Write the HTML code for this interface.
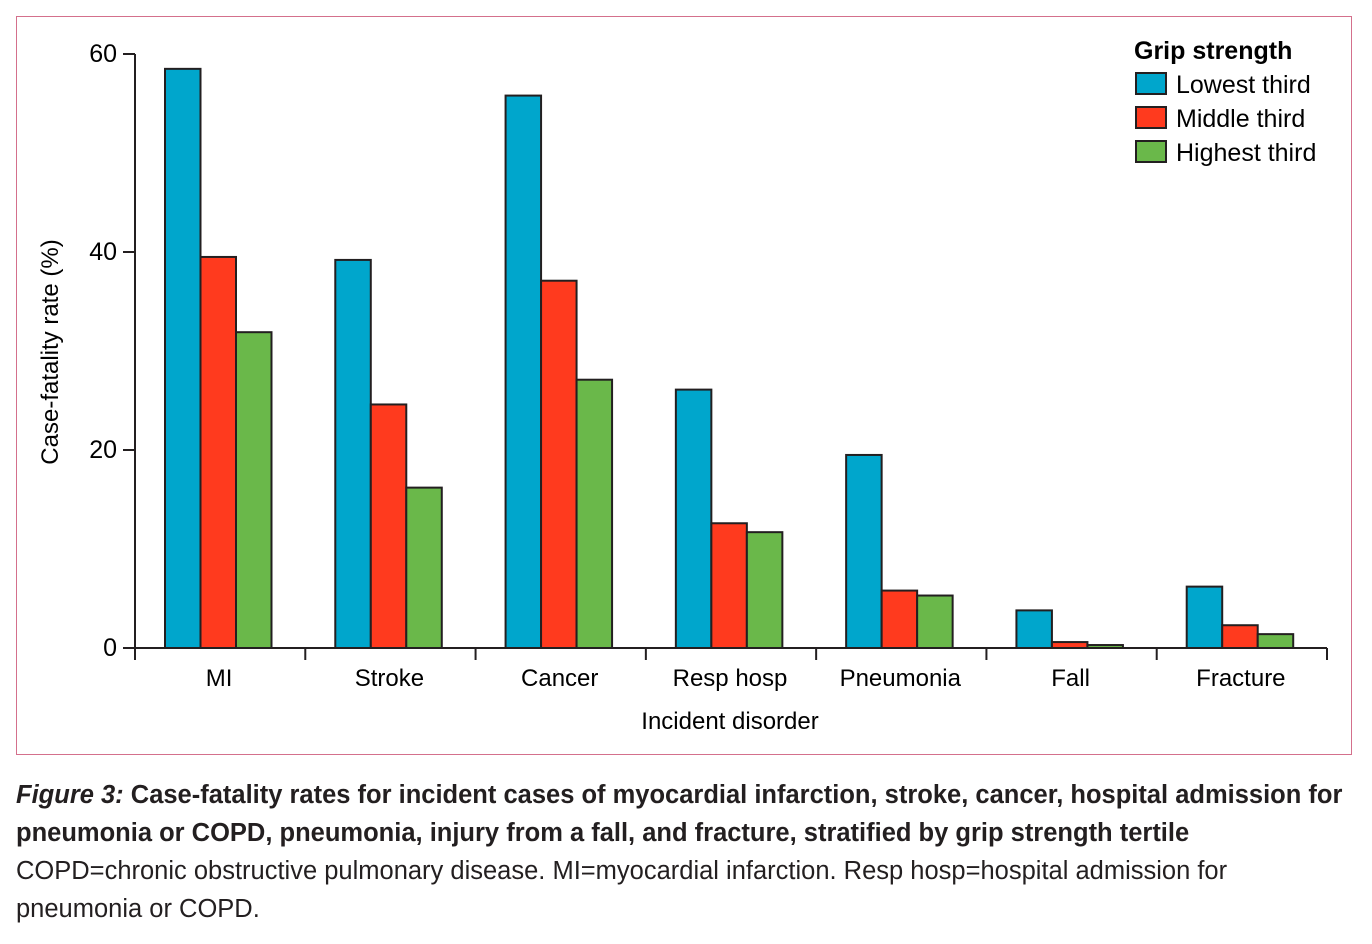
<!DOCTYPE html>
<html><head><meta charset="utf-8"><style>
body{margin:0;width:1372px;height:944px;background:#fff;font-family:"Liberation Sans",sans-serif;color:#231f20;overflow:hidden;position:relative}
#frame{position:absolute;left:16px;top:16px;width:1336px;height:739px;border:1.5px solid #d4708c;box-sizing:border-box}
svg{position:absolute;left:0;top:0}
.cap{position:absolute;left:16px;top:776px;width:1345px;font-size:25.5px;line-height:38px;letter-spacing:0}
</style></head><body>
<div id="frame"></div>
<svg id="chart" width="1372" height="944"></svg>
<div class="cap"><b><i>Figure 3:</i> Case-fatality rates for incident cases of myocardial infarction, stroke, cancer, hospital admission for pneumonia or COPD, pneumonia, injury from a fall, and fracture, stratified by grip strength tertile</b><br>COPD=chronic obstructive pulmonary disease. MI=myocardial infarction. Resp hosp=hospital admission for<br>pneumonia or COPD.</div>
<script>
const categories=["MI","Stroke","Cancer","Resp hosp","Pneumonia","Fall","Fracture"];
const lowest=[58.5,39.2,55.8,26.1,19.5,3.8,6.2];
const middle=[39.5,24.6,37.1,12.6,5.8,0.6,2.3];
const highest=[31.9,16.2,27.1,11.7,5.3,0.3,1.4];
const yTicks=[0,20,40,60];
const seriesNames=["Lowest third","Middle third","Highest third"];
const colors=["#00a6cc","#ff3a1e","#6ab84a"];
const svg=document.getElementById('chart');const NS='http://www.w3.org/2000/svg';
const X0=135,X1=1327,Y0=648,Y60=54;
const y=v=>Y0-(v/60)*(Y0-Y60);
const gw=(X1-X0)/categories.length;
function mk(t,a,txt){const e=document.createElementNS(NS,t);for(const k in a)e.setAttribute(k,a[k]);if(txt!=null)e.textContent=txt;svg.appendChild(e);return e;}
const series=[lowest,middle,highest];
const bw=35.5;
series.forEach((s,si)=>s.forEach((v,i)=>{
 const r=mk('rect',{x:X0+i*gw+30+si*bw,y:y(v),width:bw,height:Y0-y(v),fill:colors[si],stroke:'#231f20','stroke-width':2});
 
 
}));
mk('line',{x1:X0,y1:Y0,x2:X1,y2:Y0,stroke:'#231f20','stroke-width':2});
mk('line',{x1:X0,y1:Y0,x2:X0,y2:Y60,stroke:'#231f20','stroke-width':2});
yTicks.forEach(t=>{mk('line',{x1:X0-12,y1:y(t),x2:X0,y2:y(t),stroke:'#231f20','stroke-width':2});
 const l=mk('text',{x:X0-18,y:y(t)+8,'text-anchor':'end','font-size':25},t);
 });
for(let i=0;i<=categories.length;i++)mk('line',{x1:X0+i*gw,y1:Y0,x2:X0+i*gw,y2:Y0+12,stroke:'#231f20','stroke-width':2});
categories.forEach((c,i)=>{const l=mk('text',{x:X0+(i+0.5)*gw-1,y:686,'text-anchor':'middle','font-size':24},c);
 });
const xt=mk('text',{x:730,y:729,'text-anchor':'middle','font-size':24},'Incident disorder');

const yt=mk('text',{x:0,y:0,'text-anchor':'middle','font-size':24,transform:'translate(58,352) rotate(-90)'},'Case-fatality rate (%)');

const lt=mk('text',{x:1134,y:59,'font-size':25,'font-weight':'bold'},'Grip strength');

seriesNames.forEach((n,i)=>{const yy=73+i*34;
 const r=mk('rect',{x:1136,y:yy,width:30,height:21,fill:colors[i],stroke:'#231f20','stroke-width':2});
 
 const t=mk('text',{x:1176,y:yy+20,'font-size':25},n);
 });
</script>
</body></html>
